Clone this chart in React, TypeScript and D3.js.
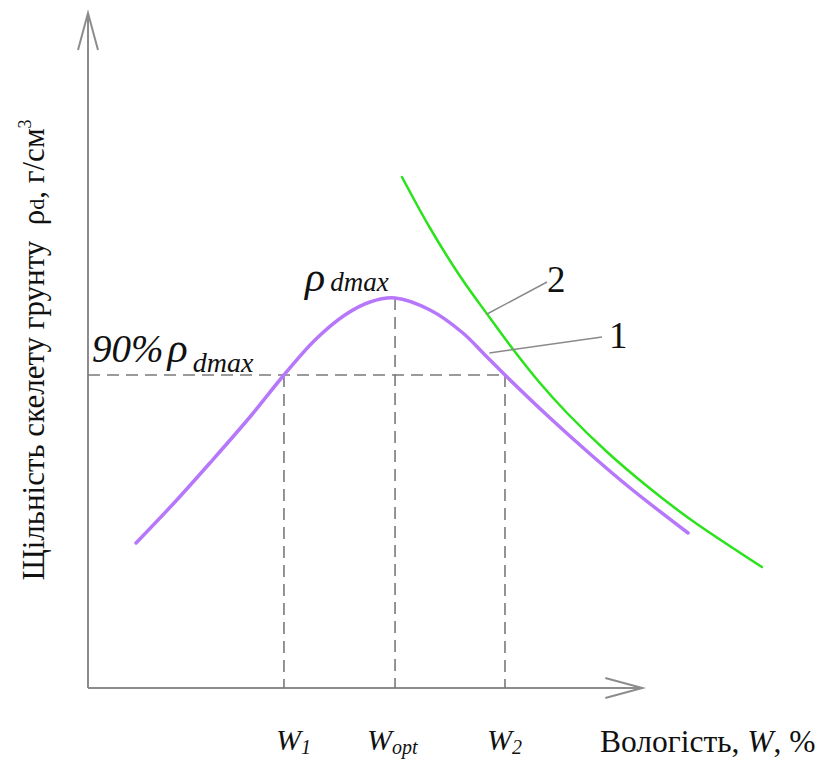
import * as d3 from 'd3';

// moisture W (%) vs dry density (g/cm3), schematic values
const curve1W = [2.09, 3.78, 5.3, 7.04, 8.52, 9.87, 11.17, 12.26, 13.35, 14.87, 16.3, 17.26, 18.13, 20.09, 21.83, 23.57, 26.09];
const curve1Rho = [1.445, 1.486, 1.525, 1.571, 1.613, 1.648, 1.673, 1.686, 1.69, 1.678, 1.655, 1.633, 1.613, 1.57, 1.534, 1.5, 1.455];
const curve2W = [13.65, 14.87, 16.17, 17.35, 18.57, 19.65, 20.83, 22.57, 24.3, 26.17, 29.3];
const curve2Rho = [1.811, 1.76, 1.712, 1.674, 1.636, 1.605, 1.575, 1.536, 1.502, 1.469, 1.421];

const W1 = 8.52;
const Wopt = 13.35;
const W2 = 18.13;
const rhoMax = 1.69;
const rho90 = 1.613;

const serif = "'Liberation Serif', 'Times New Roman', serif";

function App() {
  const width = 819;
  const height = 760;

  const x = d3.scaleLinear().domain([0, 24]).range([88, 640]);
  const y = d3.scaleLinear().domain([1.3, 1.9]).range([688, 88]);

  const line = d3
    .line<[number, number]>()
    .x(d => x(d[0]))
    .y(d => y(d[1]))
    .curve(d3.curveCatmullRom.alpha(0.5));

  const pts1 = curve1W.map((w, i) => [w, curve1Rho[i]] as [number, number]);
  const pts2 = curve2W.map((w, i) => [w, curve2Rho[i]] as [number, number]);

  const x0 = x(0);
  const y0 = y(1.3);
  const xEnd = x(24.1);
  const yEnd = y(1.975);
  const axisColor = '#8c8c8c';
  const dashColor = '#7a7a7a';

  return (
    <svg
      width={width}
      height={height}
      style={{ position: 'absolute', left: 0, top: 0, background: '#fff', fontFamily: serif }}
    >
      {/* axes */}
      <g stroke={axisColor} strokeWidth={2} fill="none">
        <line x1={x0} y1={y0} x2={x0} y2={yEnd} />
        <line x1={x0} y1={y0} x2={xEnd} y2={y0} />
        <polyline points={`${x0 - 10},${yEnd + 37} ${x0},${yEnd} ${x0 + 10},${yEnd + 37}`} />
        <polyline points={`${xEnd - 37},${y0 - 10} ${xEnd},${y0} ${xEnd - 37},${y0 + 10}`} />
      </g>

      {/* dashed guides */}
      <g stroke={dashColor} strokeWidth={1.6} strokeDasharray="12,7" fill="none">
        <line x1={x0} y1={y(rho90)} x2={x(W2)} y2={y(rho90)} />
        <line x1={x(W1)} y1={y(rho90)} x2={x(W1)} y2={y0} />
        <line x1={x(Wopt)} y1={y(rhoMax)} x2={x(Wopt)} y2={y0} />
        <line x1={x(W2)} y1={y(rho90)} x2={x(W2)} y2={y0} />
      </g>

      {/* curves */}
      <path d={line(pts1) || ''} fill="none" stroke="#b677fb" strokeWidth={3.5} strokeLinecap="round" />
      <path d={line(pts2) || ''} fill="none" stroke="#2ae31a" strokeWidth={2.5} strokeLinecap="round" />

      {/* leaders */}
      <g stroke="#8a8a8a" strokeWidth={1.5}>
        <line x1={x(17.45)} y1={y(1.635)} x2={602} y2={337} />
        <line x1={x(curve2W[3])} y1={y(curve2Rho[3])} x2={547} y2={282} />
      </g>
      <text x={609} y={348} fontSize={37} fill="#111">1</text>
      <text x={547} y={292} fontSize={37} fill="#111">2</text>

      {/* rho labels */}
      <text x={305} y={291} fontStyle="italic" fill="#111">
        <tspan fontSize={42}>ρ</tspan>
        <tspan fontSize={27} dx={5}>dmax</tspan>
      </text>
      <text x={92} y={362} fontStyle="italic" fill="#111">
        <tspan fontSize={39}>90%</tspan>
        <tspan fontSize={42} dx={4}>ρ</tspan>
        <tspan fontSize={28} dx={5} dy={10}>dmax</tspan>
      </text>

      {/* x labels */}
      <text x={x(W1) - 8} y={750} fontStyle="italic" fill="#111">
        <tspan fontSize={30}>W</tspan>
        <tspan fontSize={20} dy={4}>1</tspan>
      </text>
      <text x={x(Wopt) - 28} y={750} fontStyle="italic" fill="#111">
        <tspan fontSize={30}>W</tspan>
        <tspan fontSize={20} dy={4}>opt</tspan>
      </text>
      <text x={x(W2) - 18} y={750} fontStyle="italic" fill="#111">
        <tspan fontSize={30}>W</tspan>
        <tspan fontSize={20} dy={4}>2</tspan>
      </text>
      <text x={600} y={752} fontSize={31.5} fill="#111">
        Вологість, <tspan fontStyle="italic">W</tspan>, %
      </text>

      {/* y label */}
      <text
        transform="translate(44,350) rotate(-90)"
        textAnchor="middle"
        fontSize={31}
        fill="#111"
        style={{ whiteSpace: 'pre' }}
      >
        {'Щільність скелету грунту  ρ'}
        <tspan fontSize={22}>d</tspan>
        {', г/см'}
        <tspan fontSize={18} dy={-13}>3</tspan>
      </text>
    </svg>
  );
}

export default App;
